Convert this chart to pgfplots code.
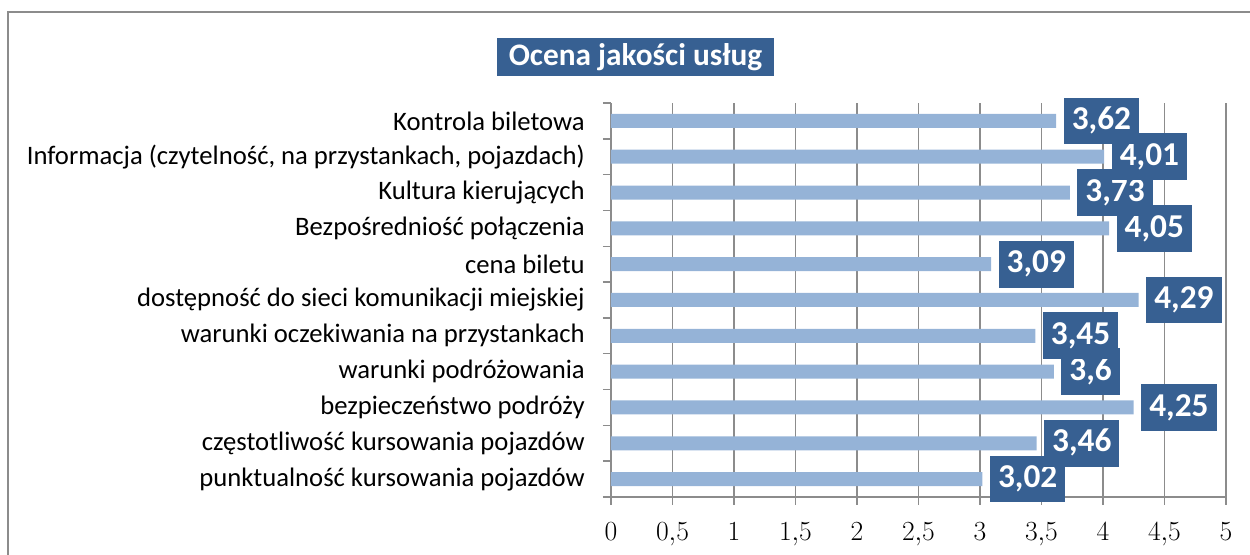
\documentclass[border=0pt]{standalone}
\usepackage{fontspec}
\setmainfont{Carlito}
\usepackage{pgfplots}
\pgfplotsset{compat=1.18}
\definecolor{barblue}{HTML}{95B3D7}
\definecolor{boxblue}{HTML}{376092}
\definecolor{gridgray}{HTML}{8C8C8C}

\begin{document}
\begin{tikzpicture}[x=1pt,y=1pt]
\useasboundingbox (-458.25,-43.5) rectangle (479.25,372.75);
% outer frame (only the top and left edges are in view)
\draw[gridgray, line width=1.5pt] (-452.25,-60) -- (-452.25,363.75) -- (490,363.75);
\begin{axis}[
  at={(0,0)}, anchor=south west,
  scale only axis, width=461.25pt, height=295.5pt,
  xbar, bar width=10.5pt,
  xmin=0, xmax=5, ymin=-0.5, ymax=10.5,
  axis x line*=bottom, axis y line*=left,
  axis line style={gridgray, line width=1.1pt},
  tick style={gridgray, line width=1.1pt},
  tick align=outside, major tick length=6pt,
  xtick={0,0.5,...,5},
  xmajorgrids, grid style={gridgray, line width=0.9pt},
  xticklabel style={font=\fontsize{21.5}{24}\selectfont, inner sep=0pt, yshift=-13pt},
  /pgf/number format/use comma,
  ytick={-0.5,0.5,1.5,2.5,3.5,4.5,5.5,6.5,7.5,8.5,9.5,10.5},
  yticklabels={},
  extra y ticks={0,1,2,3,4,5,6,7,8,9,10},
  extra y tick labels={
    punktualność kursowania pojazdów,
    częstotliwość kursowania pojazdów,
    bezpieczeństwo podróży,
    warunki podróżowania,
    warunki oczekiwania na przystankach,
    dostępność do sieci komunikacji miejskiej,
    cena biletu,
    Bezpośredniość połączenia,
    Kultura kierujących,
    {Informacja (czytelność, na przystankach, pojazdach)},
    Kontrola biletowa},
  extra y tick style={major tick length=0pt,
    yticklabel style={font=\fontsize{20}{22}\selectfont, inner sep=0pt, xshift=-19.5pt}},
  point meta=x,
  nodes near coords={\pgfmathprintnumber[assume math mode=true,use comma,fixed,precision=2]{\pgfplotspointmeta}},
  nodes near coords style={anchor=west, xshift=5.5pt, fill=boxblue, text=white,
    font=\bfseries\fontsize{25}{27}\selectfont, inner xsep=6pt, inner ysep=8pt,
    text height=16pt, text depth=3pt},
]
\addplot[fill=barblue, draw=none] coordinates {
  (3.02,0) (3.46,1) (4.25,2) (3.6,3) (3.45,4) (4.29,5)
  (3.09,6) (4.05,7) (3.73,8) (4.01,9) (3.62,10)};
\end{axis}
\node[fill=boxblue, text=white, font=\bfseries\fontsize{23.5}{26}\selectfont,
  minimum width=208pt, minimum height=29pt, inner sep=0pt] at (18.4,330) {Ocena jakości usług};
\end{tikzpicture}
\end{document}
